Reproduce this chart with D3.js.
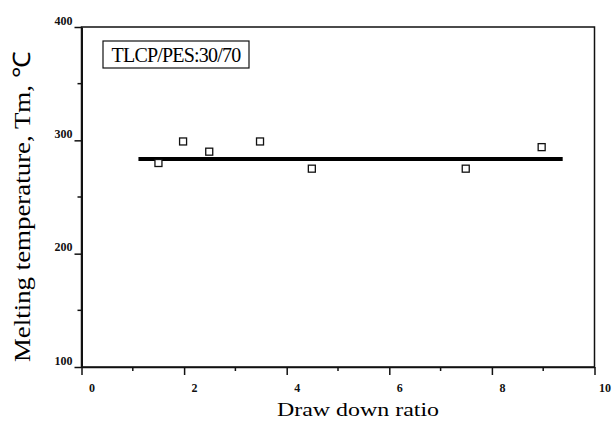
<!DOCTYPE html>
<html>
<head>
<meta charset="utf-8">
<script src="https://cdn.jsdelivr.net/npm/d3@7"></script>
<style>
  body { margin: 0; background: #fff; }
  svg { font-family: "Liberation Serif", "Times New Roman", serif; }
</style>
</head>
<body>
<div id="chart"></div>
<script>
// data
const drawRatio = [1.5, 1.98, 2.49, 3.48, 4.49, 7.49, 8.97];
const meltTemp = [280, 299, 290, 299, 275, 275, 294];
const fitX = [1.11, 9.38];
const fitY = [283.5, 283.5];
const xTicks = [0, 2, 4, 6, 8, 10];
const yTicks = [100, 200, 300, 400];
const legendText = "TLCP/PES:30/70";

const width = 613;
const height = 421;
const margin = { top: 27, right: 18.5, bottom: 54, left: 81.5 };

const svg = d3.select("#chart")
  .append("svg")
  .attr("width", width)
  .attr("height", height);

const x = d3.scaleLinear()
  .domain([0, 10])
  .range([margin.left, width - margin.right]);

const y = d3.scaleLinear()
  .domain([100, 400])
  .range([height - margin.bottom, margin.top]);

// frame
svg.append("rect")
  .attr("x", x(0))
  .attr("y", y(400))
  .attr("width", x(10) - x(0))
  .attr("height", y(100) - y(400))
  .attr("fill", "none")
  .attr("stroke", "#111")
  .attr("stroke-width", 1.5);

// x axis
const xAxis = svg.append("g")
  .attr("transform", `translate(0,${y(100)})`)
  .call(d3.axisBottom(x).tickValues(xTicks).tickSize(8).tickSizeOuter(0));
xAxis.select(".domain").attr("stroke", "#111").attr("stroke-width", 1.5);
xAxis.selectAll(".tick line").attr("stroke", "#111").attr("stroke-width", 1.5);
xAxis.selectAll(".tick text")
  .attr("dx", 10)
  .attr("dy", "1.2em")
  .attr("fill", "#111")
  .style("font-size", "12px")
  .style("font-weight", "bold")
  .style("font-family", "Liberation Serif, serif");

svg.append("g")
  .attr("transform", `translate(0,${y(100)})`)
  .selectAll("line")
  .data([1, 3, 5, 7, 9])
  .enter()
  .append("line")
  .attr("x1", d => x(d))
  .attr("x2", d => x(d))
  .attr("y1", 0)
  .attr("y2", 4)
  .attr("stroke", "#111")
  .attr("stroke-width", 1.5);

// y axis
const yAxis = svg.append("g")
  .attr("transform", `translate(${x(0)},0)`)
  .call(d3.axisLeft(y).tickValues(yTicks).tickSize(7).tickSizeOuter(0));
yAxis.select(".domain").attr("stroke", "#111").attr("stroke-width", 2);
yAxis.selectAll(".tick line").attr("stroke", "#111").attr("stroke-width", 1.5);
yAxis.selectAll(".tick text")
  .attr("x", -9)
  .attr("dy", "-0.25em")
  .attr("fill", "#111")
  .style("font-size", "12px")
  .style("font-weight", "bold")
  .style("font-family", "Liberation Serif, serif");

svg.append("g")
  .attr("transform", `translate(${x(0)},0)`)
  .selectAll("line")
  .data([150, 250, 350])
  .enter()
  .append("line")
  .attr("x1", -4)
  .attr("x2", 0)
  .attr("y1", d => y(d))
  .attr("y2", d => y(d))
  .attr("stroke", "#111")
  .attr("stroke-width", 1.5);

// fit line
svg.append("line")
  .attr("x1", x(fitX[0]))
  .attr("x2", x(fitX[1]))
  .attr("y1", y(fitY[0]))
  .attr("y2", y(fitY[1]))
  .attr("stroke", "#000")
  .attr("stroke-width", 4);

// points
svg.selectAll(".pt")
  .data(drawRatio)
  .enter()
  .append("rect")
  .attr("class", "pt")
  .attr("x", d => x(d) - 3.5)
  .attr("y", (d, i) => y(meltTemp[i]) - 3.5)
  .attr("width", 7)
  .attr("height", 7)
  .attr("fill", "#fff")
  .attr("stroke", "#111")
  .attr("stroke-width", 1.3);

// legend box
svg.append("rect")
  .attr("x", 103)
  .attr("y", 41)
  .attr("width", 146)
  .attr("height", 27)
  .attr("fill", "none")
  .attr("stroke", "#111")
  .attr("stroke-width", 1.2);

svg.append("text")
  .attr("x", 176)
  .attr("y", 62)
  .attr("text-anchor", "middle")
  .style("font-size", "20px")
  .style("letter-spacing", "-0.8px")
  .text(legendText);

// axis titles
svg.append("text")
  .attr("transform", "translate(358,416) scale(1.26,1)")
  .attr("text-anchor", "middle")
  .style("font-size", "19px")
  .text("Draw down ratio");

svg.append("text")
  .attr("transform", "translate(30,207) rotate(-90) scale(1.12,1)")
  .attr("text-anchor", "middle")
  .style("font-size", "24px")
  .text("Melting temperature, Tm,  \u2103");
</script>
</body>
</html>
